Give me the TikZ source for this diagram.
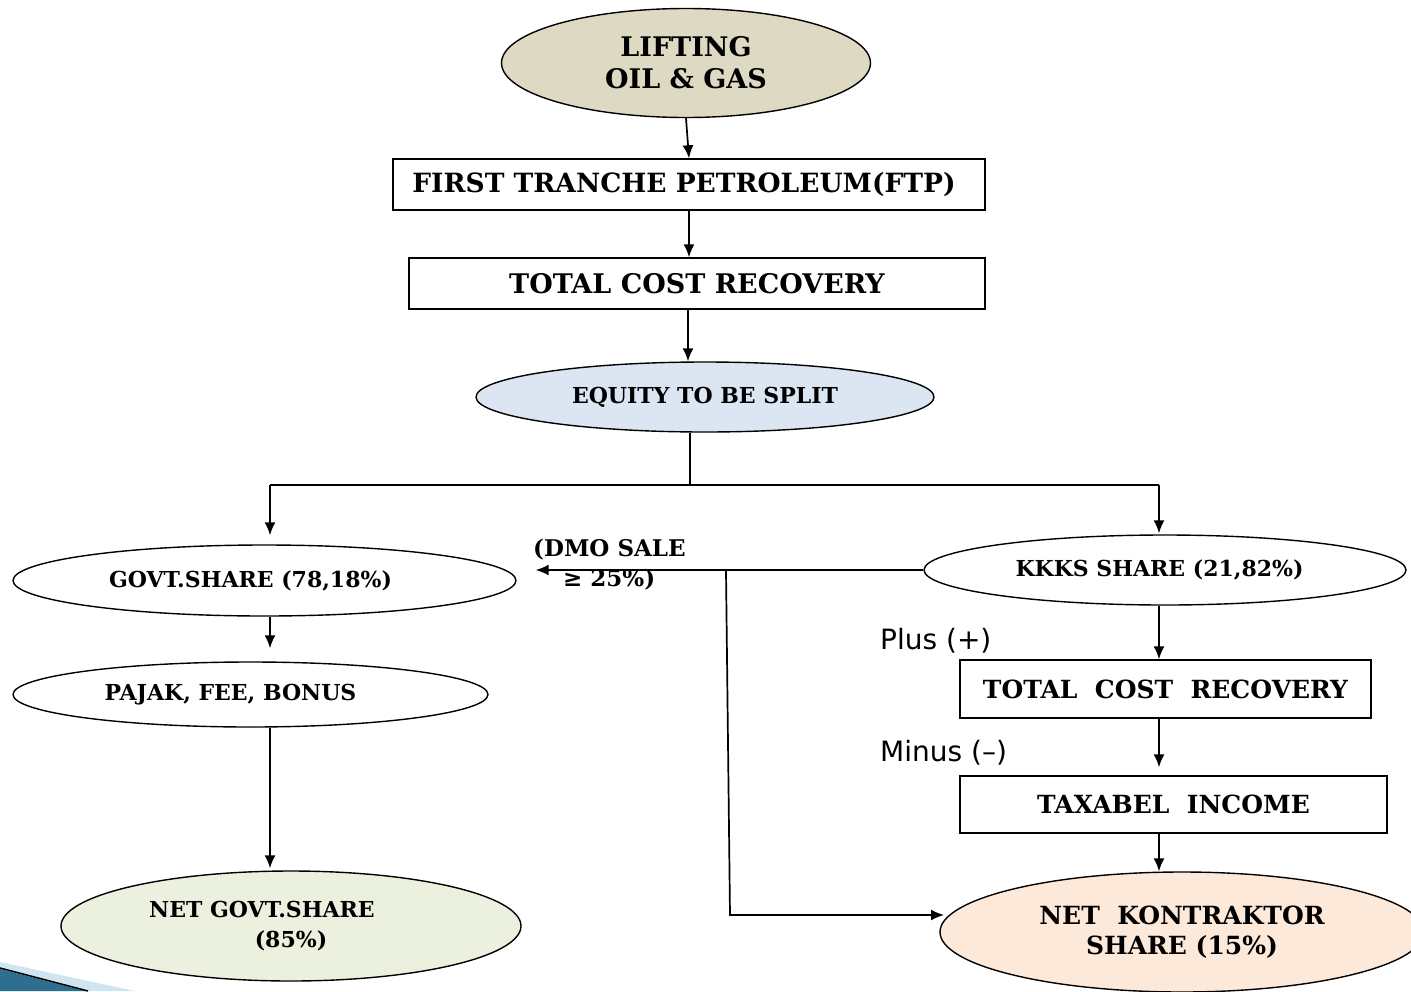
\documentclass[tikz,border=0pt]{standalone}
\usepackage{fontspec}
\newfontfamily\dv{DejaVu Sans}
\newfontfamily\bk{DejaVu Serif Bold}
\usetikzlibrary{shapes.geometric,arrows.meta}
\definecolor{liftc}{HTML}{DDD9C3}
\definecolor{eqc}{HTML}{DCE6F2}
\definecolor{ngc}{HTML}{EBF1DE}
\definecolor{nkc}{HTML}{FDE9D9}
\definecolor{swA}{HTML}{2E6E8E}
\definecolor{swB}{HTML}{CFE6F0}
\tikzset{
  ell/.style={ellipse,draw,line width=1.4pt,inner sep=0pt,align=center},
  box/.style={rectangle,draw,line width=1.4pt,inner sep=0pt,align=center},
  arr/.style={line width=1.7pt,-{Latex[length=13pt,width=11pt]}},
  ln/.style={line width=1.4pt},
  big/.style={font=\bk\fontsize{27}{32}\selectfont},
  mid/.style={font=\bk\fontsize{25}{30}\selectfont},
  sml/.style={font=\bk\fontsize{22}{25}\selectfont},
  lbl/.style={font=\dv\fontsize{28}{30}\selectfont,inner sep=0pt}
}
\begin{document}
\begin{tikzpicture}[x=1pt,y=-1pt]
\useasboundingbox (0,0) rectangle (1411,991);
\clip (0,0) rectangle (1411,991);
% swoosh
\fill[swB] (0,962) -- (135,991) -- (0,991) -- cycle;
\fill[swA] (0,969) -- (85,991) -- (0,991) -- cycle;
\draw[line width=1.5pt] (0,968) -- (88,991);
% nodes
\node[ell,fill=liftc,minimum width=369,minimum height=109,big] (lift) at (686,63) {LIFTING\\OIL \& GAS};
\node[box,minimum width=592,minimum height=51,font=\bk\fontsize{26.5}{32}\selectfont] (ftp) at (689,184.5) {FIRST TRANCHE PETROLEUM(FTP)\hspace*{10pt}};
\node[box,minimum width=576,minimum height=51,big] (tcr) at (697,283.5) {TOTAL COST RECOVERY};
\node[ell,fill=eqc,minimum width=458,minimum height=70,font=\bk\fontsize{22}{26}\selectfont] (eq) at (705,397) {EQUITY TO BE SPLIT};
\node[ell,fill=white,minimum width=503,minimum height=71,sml] (govt) at (264.5,580.5) {GOVT.SHARE (78,18\%)\hspace*{28pt}};
\node[ell,fill=white,minimum width=475,minimum height=65,sml] (pajak) at (250.5,694.5) {PAJAK, FEE, BONUS\hspace*{40pt}};
\node[ell,fill=ngc,minimum width=460,minimum height=110,font=\bk\fontsize{22}{30}\selectfont] (ng) at (291,926) {NET GOVT.SHARE\hspace*{58pt}\\(85\%)};
\node[ell,fill=white,minimum width=482,minimum height=70,sml] (kkks) at (1165,570) {KKKS SHARE (21,82\%)\hspace*{11pt}};
\node[box,minimum width=411,minimum height=58,mid] (tcr2) at (1165.5,689) {TOTAL\ \ COST\ \ RECOVERY};
\node[box,minimum width=427,minimum height=57,mid] (tax) at (1173.5,804.5) {TAXABEL\ \ INCOME};
\node[ell,fill=nkc,minimum width=484,minimum height=120,mid] (nk) at (1182,932) {NET\ \ KONTRAKTOR\\SHARE (15\%)};
% labels
\node[lbl,anchor=west] (plus) at (880,641) {Plus (+)};
\node[lbl,anchor=west] (minus) at (880,753) {Minus (–)};
\node[anchor=west,inner sep=0pt,align=left,font=\bk\fontsize{23}{30}\selectfont] (dmo) at (533,565) {(DMO SALE\\\hspace*{1.3em}≥ 25\%)};
% coordinates
\coordinate (sp) at (690,485);
\coordinate (spL) at (270,485);
\coordinate (spR) at (1159,485);
\coordinate (dm) at (726,571);
\coordinate (turn) at (730,915);
% connectors
\draw[arr] (lift.south) -- (ftp.north);
\draw[arr] (ftp.south) -- (ftp.south |- tcr.north);
\draw[arr] (tcr.south -| 688,0) -- (eq.north -| 688,0);
\draw[ln] (eq.south -| sp) -- (sp);
\draw[ln] (spL) -- (spR);
\draw[arr,shorten >=9pt] (spL) -- (spL |- govt.north);
\draw[arr,shorten >=1pt] (spR) -- (spR |- kkks.north);
\draw[arr,shorten >=13pt] (govt.south -| spL) -- (pajak.north -| spL);
\draw[arr,shorten >=2pt] (pajak.south -| spL) -- (ng.north -| spL);
\draw[arr,shorten >=19pt] (kkks.west) -- (govt.east |- kkks.west);
\draw[arr] (dm) -- (turn) -- (turn -| 944,0);
\draw[arr] (kkks.south -| spR) -- (tcr2.north -| spR);
\draw[arr,shorten >=8pt] (tcr2.south -| spR) -- (tax.north -| spR);
\draw[arr] (tax.south -| spR) -- (nk.north -| spR);
\end{tikzpicture}
\end{document}
